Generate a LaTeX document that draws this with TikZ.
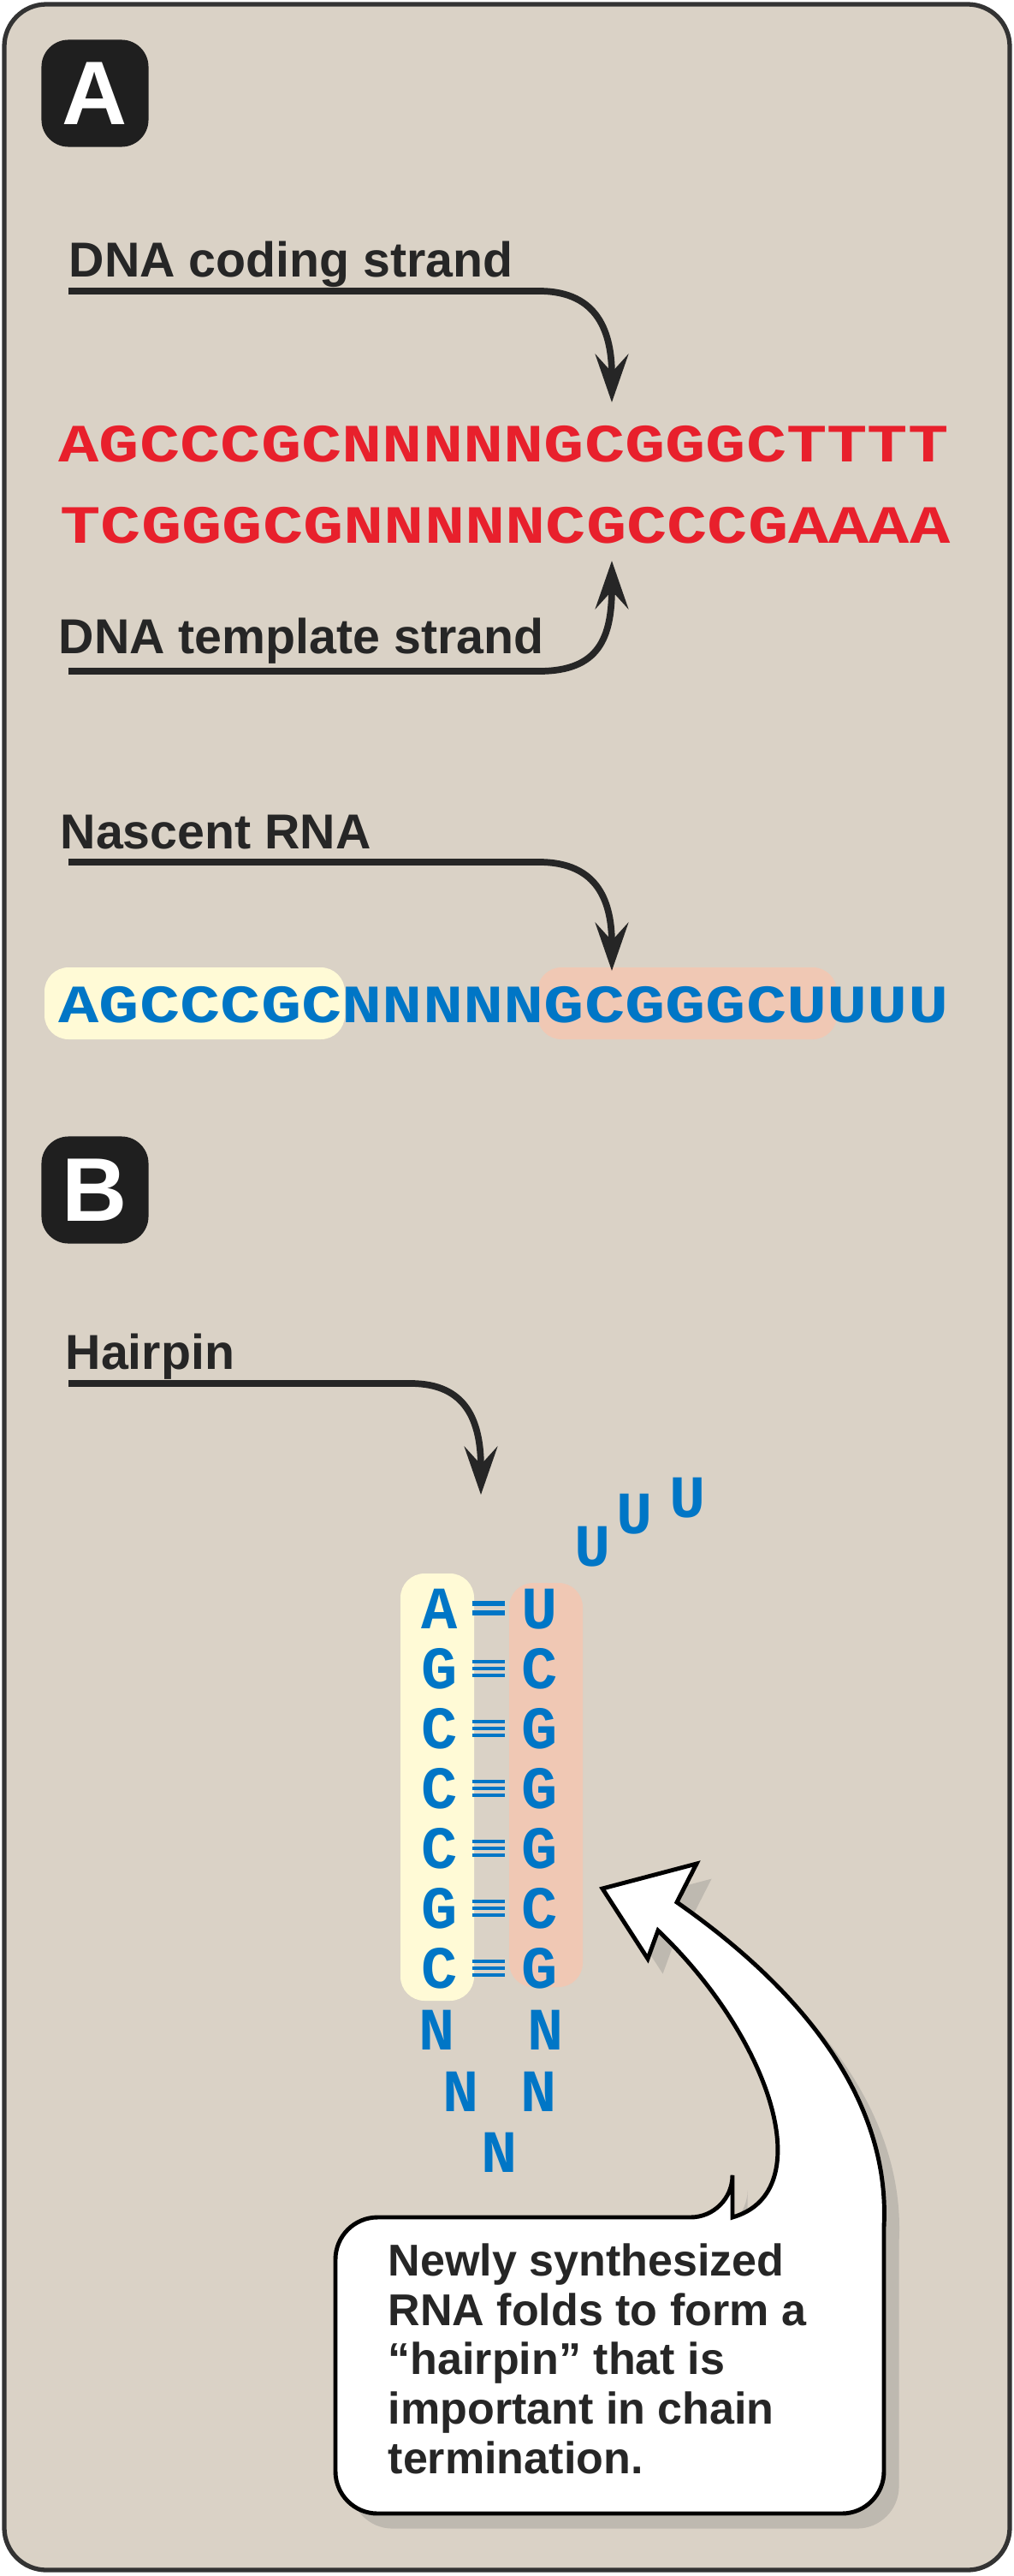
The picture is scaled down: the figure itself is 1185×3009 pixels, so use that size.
\documentclass[tikz,border=0pt]{standalone}
\usepackage{fontspec}
\setmainfont{Liberation Sans}
\newfontfamily\seqfont{Liberation Mono}
\usetikzlibrary{arrows.meta,shadows}
\definecolor{bgpanel}{RGB}{218,210,198}
\definecolor{dnared}{RGB}{232,32,44}
\definecolor{rnablue}{RGB}{0,118,198}
\definecolor{glowyellow}{RGB}{255,250,214}
\definecolor{glowpink}{RGB}{246,198,176}
\newcommand\squash[1]{\scalebox{1}[0.8]{#1}}
\begin{document}
\begin{tikzpicture}[x=0.01cm,y=-0.01cm,
  lbl/.style={anchor=base west,inner sep=0,font=\fontsize{16.3}{19}\selectfont\bfseries,text=black!85},
  seq/.style={anchor=base west,inner sep=0,font=\seqfont\fontsize{22.4}{26}\selectfont\bfseries},
  base/.style={anchor=base,inner sep=0,text=rnablue,font=\seqfont\fontsize{20}{24}\selectfont\bfseries},
  pointer/.style={line width=2.2pt,black!85,-{Stealth[length=16pt,width=11pt,inset=6pt]}},
  tag/.style={fill=black!88,rounded corners=9,text=white,font=\fontsize{30}{30}\selectfont\bfseries,minimum width=1.25cm,minimum height=1.25cm,inner sep=0}]
\useasboundingbox (0,0) rectangle (1185,3009);
\draw[line width=1.5pt,black!80,fill=bgpanel,rounded corners=14] (5,5) rectangle (1180,3002);

% panel A
\node[tag] (tagA) at (111,109) {A};
\node[lbl] (coding) at (80,323) {DNA coding strand};
\node[seq,text=dnared] (top) at (68,539) {\squash{AGCCCGCNNNNNGCGGGCTTTT}};
\node[seq,text=dnared] (bottom) at (70,634) {\squash{TCGGGCGNNNNNCGCCCGAAAA}};
\node[lbl] (template) at (68,763) {DNA template strand};
\coordinate (c1) at (80,340);
\coordinate (c1e) at (715,470);
\coordinate (c2) at (80,784);
\coordinate (c2e) at (715,655);
\draw[pointer] (c1) -- (630,340) .. controls (700,340) and (715,390) .. (c1e);
\draw[pointer] (c2) -- (630,784) .. controls (700,784) and (715,745) .. (c2e);

\fill[glowyellow,rounded corners=8] (52,1130) rectangle (403,1214);
\fill[glowpink,opacity=.8,rounded corners=8] (628,1130) rectangle (978,1214);
\node[lbl] (nascent) at (70,991) {Nascent RNA};
\node[seq,text=rnablue] (rna) at (68,1194) {\squash{AGCCCGCNNNNNGCGGGCUUUU}};
\coordinate (c3) at (80,1007);
\coordinate (c3e) at (715,1134);
\draw[pointer] (c3) -- (630,1007) .. controls (700,1007) and (715,1055) .. (c3e);

% panel B
\node[tag] (tagB) at (111,1390) {B};
\node[lbl] (hairpin) at (76,1599) {Hairpin};
\coordinate (c4) at (80,1616);
\coordinate (c4e) at (562,1746);
\draw[pointer] (c4) -- (480,1616) .. controls (545,1616) and (562,1660) .. (c4e);

\fill[glowyellow,rounded corners=8] (468,1838) rectangle (554,2337);
\fill[glowpink,opacity=.8,rounded corners=8] (595,1849) rectangle (681,2321);
\foreach \l/\r [count=\i from 0] in {A/U,G/C,C/G,C/G,C/G,G/C,C/G}{
  \node[base] (l\i) at (514,1902+70*\i) {\l};
  \node[base] (r\i) at (631,1902+70*\i) {\r};
}
\draw[rnablue,line width=1.6pt] (552,1873) -- (590,1873) (552,1884) -- (590,1884);
\foreach \i in {1,...,6}{
  \draw[rnablue,line width=1.3pt] (552,1871+70*\i) -- (590,1871+70*\i)
    (552,1879+70*\i) -- (590,1879+70*\i) (552,1887+70*\i) -- (590,1887+70*\i);
}
\node[base] (n1) at (511,2394) {N};
\node[base] (n2) at (539,2466) {N};
\node[base] (n3) at (584,2537) {N};
\node[base] (n4) at (630,2466) {N};
\node[base] (n5) at (638,2394) {N};
\node[base] (u1) at (693,1829) {U};
\node[base] (u2) at (742,1791) {U};
\node[base] (u3) at (804,1772) {U};

\draw[line width=1.4pt,fill=white,drop shadow={opacity=.3,shadow xshift=5pt,shadow yshift=-5pt}]
  (856,2590) .. controls (960,2560) and (900,2380) .. (769,2255) -- (757,2288) -- (704,2206)
  -- (814,2177) -- (791,2222) .. controls (960,2340) and (1040,2470) .. (1033,2601)
  [rounded corners=14] -- (1033,2936) -- (392,2936) -- (392,2590) -- (856,2590) [sharp corners] -- cycle;
\node[anchor=north west,inner sep=0,align=left,font=\fontsize{14.8}{16.4}\selectfont\bfseries,text=black!85] (note) at (453,2620)
  {Newly synthesized\\RNA folds to form a\\``hairpin'' that is\\important in chain\\termination.};
\end{tikzpicture}
\end{document}
